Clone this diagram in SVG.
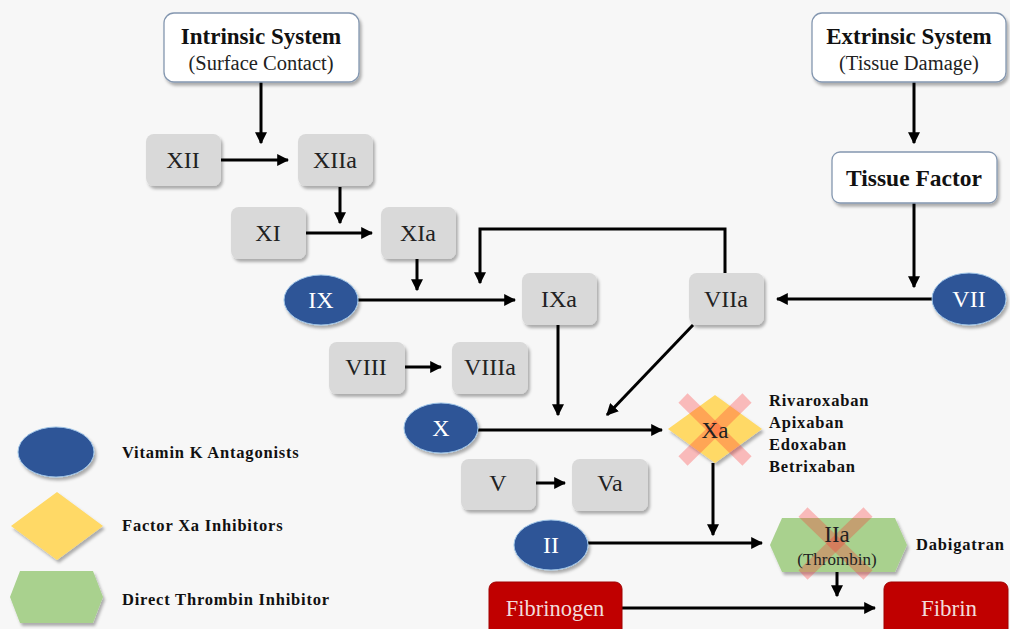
<svg xmlns="http://www.w3.org/2000/svg" width="1010" height="629" viewBox="0 0 1010 629">
<defs>
<marker id="ah" viewBox="0 0 10 10" refX="9" refY="5" markerWidth="4" markerHeight="4" orient="auto" markerUnits="strokeWidth">
<path d="M0,0 L10,5 L0,10 z" fill="#000"/>
</marker>
<filter id="sh" x="-10%" y="-10%" width="125%" height="130%">
<feDropShadow dx="2" dy="3" stdDeviation="1.5" flood-color="#000" flood-opacity="0.3"/>
</filter>
</defs>
<style>
.sys{fill:#fff;stroke:#8497b0;stroke-width:1.3;filter:url(#sh)}
.g{fill:#d9d9d9;filter:url(#sh)}
.b{fill:#2f5597;stroke:#9dc3e6;stroke-width:1;filter:url(#sh)}
.r{fill:#c00000;stroke:#a00000;stroke-width:1}
.t{font-family:"Liberation Serif",serif;text-anchor:middle;fill:#222}
.n{font-size:24px}
.bold{font-weight:bold;fill:#111}
.w{fill:#fff}
.pk{fill:#f2dcdb}
.c{fill:none;stroke:#000;stroke-width:3;marker-end:url(#ah)}
.x{stroke:#ff3030;stroke-opacity:0.3;stroke-width:13}
.lg{font-family:"Liberation Serif",serif;font-weight:bold;font-size:16.5px;letter-spacing:0.8px;fill:#111}
</style>
<rect width="1010" height="629" fill="#f7f7f7"/>

<g id="connectors">
<path class="c" d="M261,82 V143"/>
<path class="c" d="M221,160 H288"/>
<path class="c" d="M340,187 V223"/>
<path class="c" d="M306,233 H372"/>
<path class="c" d="M417,259 V290"/>
<path class="c" d="M725,273 V229 H480 V283"/>
<path class="c" d="M358,300 H515"/>
<path class="c" d="M914,82 V143"/>
<path class="c" d="M914,203 V287"/>
<path class="c" d="M932,299 H777"/>
<path class="c" d="M405,367 H441"/>
<path class="c" d="M558,325 V415"/>
<path class="c" d="M693,325 L607,415"/>
<path class="c" d="M478,430 H662"/>
<path class="c" d="M536,483 H565"/>
<path class="c" d="M713,463 V535"/>
<path class="c" d="M588,543 H762"/>
<path class="c" d="M837,571 V596"/>
<path class="c" d="M622,608 H875"/>
</g>

<g id="intrinsic">
<rect class="sys" x="164" y="13" width="195" height="69" rx="10"/>
<text class="t bold" x="261" y="44" font-size="23">Intrinsic System</text>
<text class="t" x="261" y="70" font-size="20.5">(Surface Contact)</text>
</g>
<g id="extrinsic">
<rect class="sys" x="812" y="13" width="194" height="69" rx="10"/>
<text class="t bold" x="909" y="44" font-size="23">Extrinsic System</text>
<text class="t" x="909" y="70" font-size="20.5">(Tissue Damage)</text>
</g>
<g id="tissuefactor">
<rect class="sys" x="832" y="152" width="165" height="51" rx="8"/>
<text class="t bold" x="914" y="186" font-size="23.5">Tissue Factor</text>
</g>

<g id="XII"><rect class="g" x="146" y="134" width="75" height="52" rx="8"/><text class="t n" x="183" y="168">XII</text></g>
<g id="XIIa"><rect class="g" x="298" y="134" width="75" height="52" rx="8"/><text class="t n" x="335" y="168">XIIa</text></g>
<g id="XI"><rect class="g" x="231" y="207" width="75" height="52" rx="8"/><text class="t n" x="268" y="241">XI</text></g>
<g id="XIa"><rect class="g" x="381" y="207" width="75" height="52" rx="8"/><text class="t n" x="418" y="241">XIa</text></g>
<g id="IX"><ellipse class="b" cx="321" cy="300" rx="37" ry="25"/><text class="t n w" x="321" y="308">IX</text></g>
<g id="IXa"><rect class="g" x="522" y="273" width="75" height="52" rx="8"/><text class="t n" x="559" y="307">IXa</text></g>
<g id="VIIa"><rect class="g" x="689" y="273" width="75" height="52" rx="8"/><text class="t n" x="726" y="307">VIIa</text></g>
<g id="VII"><ellipse class="b" cx="969" cy="299" rx="37" ry="26"/><text class="t n w" x="969" y="307">VII</text></g>
<g id="VIII"><rect class="g" x="329" y="342" width="76" height="52" rx="8"/><text class="t n" x="366" y="375">VIII</text></g>
<g id="VIIIa"><rect class="g" x="452" y="342" width="76" height="52" rx="8"/><text class="t n" x="490" y="375">VIIIa</text></g>
<g id="X"><ellipse class="b" cx="441" cy="428" rx="37" ry="25"/><text class="t n w" x="441" y="436">X</text></g>
<g id="V"><rect class="g" x="461" y="459" width="75" height="51" rx="8"/><text class="t n" x="498" y="491">V</text></g>
<g id="Va"><rect class="g" x="572" y="459" width="76" height="52" rx="8"/><text class="t n" x="610" y="491">Va</text></g>

<g id="Xa">
<polygon points="715,395 762,429 715,463 668,429" fill="#ffd966" filter="url(#sh)"/>
<line class="x" x1="683" y1="398" x2="747" y2="461"/>
<line class="x" x1="747" y1="398" x2="683" y2="461"/>
<text class="t" x="715" y="438" font-size="23" fill="#5a2a00">Xa</text>
</g>
<g id="xa-drugs">
<text class="lg" x="769" y="406">Rivaroxaban</text>
<text class="lg" x="769" y="428">Apixaban</text>
<text class="lg" x="769" y="450">Edoxaban</text>
<text class="lg" x="769" y="472">Betrixaban</text>
</g>

<g id="II"><ellipse class="b" cx="551" cy="545" rx="37" ry="25"/><text class="t n w" x="551" y="553">II</text></g>

<g id="IIa">
<polygon points="770,545 782,518 895,518 907,545 895,572 782,572" fill="#a9d18e" filter="url(#sh)"/>
<line class="x" x1="803" y1="512" x2="868" y2="575"/>
<line class="x" x1="868" y1="512" x2="803" y2="575"/>
<text class="t" x="837" y="542" font-size="23" fill="#3a3a20">IIa</text>
<text class="t" x="837" y="565" font-size="17" fill="#3a3a20">(Thrombin)</text>
</g>
<text class="lg" x="916" y="550">Dabigatran</text>

<g id="fibrinogen"><rect class="r" x="489" y="582" width="133" height="60" rx="7"/><text class="t pk" x="555" y="616" font-size="22.5">Fibrinogen</text></g>
<g id="fibrin"><rect class="r" x="884" y="582" width="124" height="60" rx="7"/><text class="t pk" x="949" y="616" font-size="23">Fibrin</text></g>

<g id="legend">
<ellipse class="b" cx="56" cy="452" rx="38" ry="25"/>
<text class="lg" x="122" y="458">Vitamin K Antagonists</text>
<polygon points="57,492 103,526 57,560 11,526" fill="#ffd966" filter="url(#sh)"/>
<text class="lg" x="122" y="531">Factor Xa Inhibitors</text>
<polygon points="10,597 20,571 93,571 103,597 93,623 20,623" fill="#a9d18e" filter="url(#sh)"/>
<text class="lg" x="122" y="605">Direct Thrombin Inhibitor</text>
</g>
</svg>
